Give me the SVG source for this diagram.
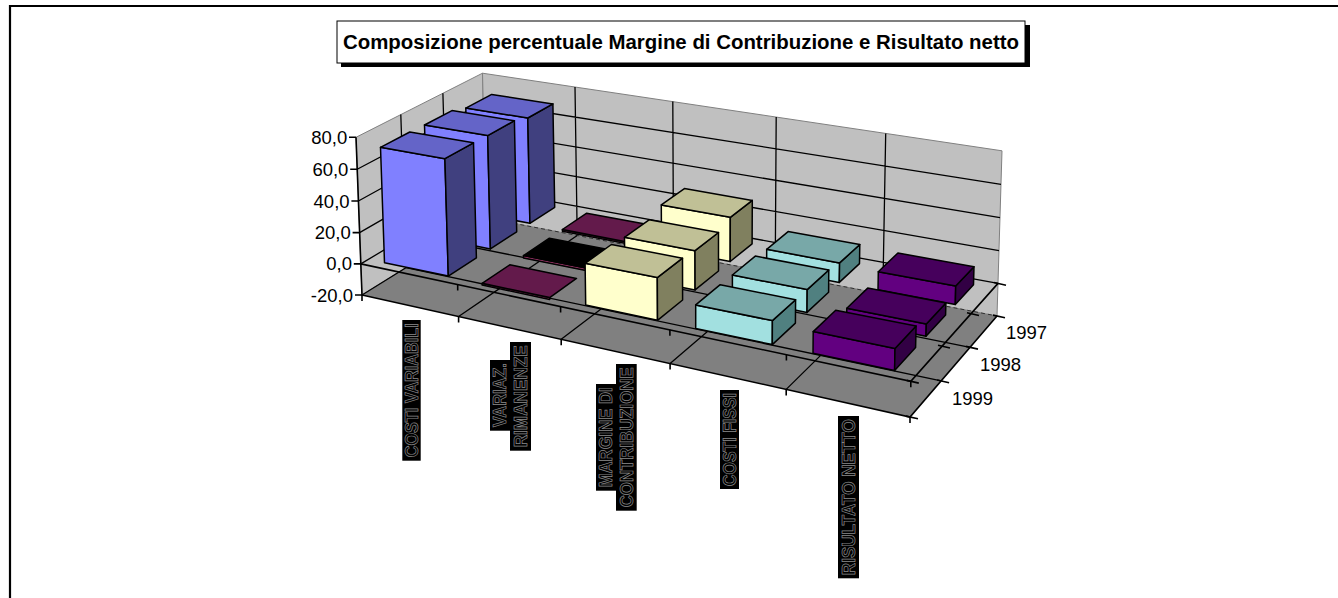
<svg xmlns="http://www.w3.org/2000/svg" width="1338" height="598" viewBox="0 0 1338 598">
<style>
text{font-family:"Liberation Sans",Arial,sans-serif;fill:#000}
.ax{font-size:18.5px}
.wall{fill:#c0c0c0;stroke:#808080;stroke-width:1}
.floor{fill:#808080;stroke:none}
.g{stroke:#000;stroke-width:1.3;fill:none}
.e{stroke:#000;stroke-width:1.6;fill:none}
.b{stroke:#000;stroke-width:1.5;stroke-linejoin:round}
.bf{fill:#8080ff}.bt{fill:#6464c8}.bs{fill:#40407f}
.vt{fill:#631a4b}.vf{fill:#993366}
.yf{fill:#ffffcc}.yt{fill:#c0c096}.ys{fill:#80805f}
.cf{fill:#a2e0e0}.ct{fill:#78a8a8}.cs{fill:#508080}
.pf{fill:#620080}.pt{fill:#46005c}.ps{fill:#320044}
.lb{fill:#000}
.lt{font-size:18px;font-weight:bold;fill:#000;stroke:#8a8a8a;stroke-width:0.7}
</style>
<rect x="0" y="0" width="1338" height="598" fill="#fff"/>
<path d="M10,598 V6 H1338" fill="none" stroke="#000" stroke-width="2.2"/>

<g id="title">
<rect x="341" y="25" width="689" height="42" fill="#000"/>
<rect x="337" y="21" width="688" height="42" fill="#fff" stroke="#000" stroke-width="1"/>
<text x="681" y="49" text-anchor="middle" font-size="19.5" font-weight="bold" textLength="676" lengthAdjust="spacingAndGlyphs">Composizione percentuale Margine di Contribuzione e Risultato netto</text>
</g>

<g id="walls">
<polygon class="wall" points="362,295 486,218 482.5,73.2 356,137.3"/>
<polygon class="wall" points="486,218 997,316 1002,150.8 482.5,73.2"/>
<path class="g" d="M360.8,263.9 L485.3,189.4 M359.6,232.6 L484.6,160.6 M358.4,201 L483.9,131.7 M357.2,169.3 L483.2,102.6 M405.9,267.7 L400.8,114.6 M447.2,242.1 L442.9,93.3"/>
<path class="g" d="M485.3,189.4 L998,283.4 M484.6,160.6 L999,250.6 M483.9,131.7 L1000,217.6 M483.2,102.6 L1001,184.3 M577.2,235.5 L575,87.1 M673.5,254 L672.8,101.6 M775.2,273.5 L776.2,117.1 M882.8,294.1 L885.7,133.4"/>
</g>

<g id="floor">
<polygon class="floor" points="362,295 910,417 997,316 486,218"/>
<path d="M486,218 L997,316" stroke="#303030" stroke-width="1" stroke-dasharray="4,3" fill="none"/>
<path class="g" d="M458.6,316.5 L577.2,235.5 M561.2,339.3 L673.5,254 M670.1,363.6 L775.2,273.5 M786.2,389.4 L882.8,294.1 M405.9,267.7 L941.1,380.9 M447.2,242.1 L970,347.3"/>
<path class="g" d="M362,295 L486,218"/>
</g>

<g id="bars">
<!-- 1997 row -->
<g id="cv1997" class="b"><polygon class="bf" points="465.8,108.1 527.8,118 529.9,223.3 468.6,211.6"/><polygon class="bs" points="527.8,118 552.9,103.9 554.7,207.3 529.9,223.3"/><polygon class="bt" points="465.8,108.1 527.8,118 552.9,103.9 491.7,94.4"/></g>
<g id="vr1997" class="b"><polygon class="vf" points="562.4,229.5 627.2,241.9 627.2,243.8 562.4,231.3"/><polygon class="vt" points="562.4,229.5 627.2,241.9 650.6,225 586.7,213.2"/></g>
<g id="mc1997" class="b"><polygon class="yf" points="661.3,204.9 730.3,217.3 730.2,261.5 661.5,248.4"/><polygon class="ys" points="730.3,217.3 752.3,200.4 752.1,243.8 730.2,261.5"/><polygon class="yt" points="661.3,204.9 730.3,217.3 752.3,200.4 684.4,188.6"/></g>
<g id="cf1997" class="b"><polygon class="cf" points="766.7,249.3 839.6,262.9 839.3,282.4 766.6,268.5"/><polygon class="cs" points="839.6,262.9 859.8,244.5 859.5,263.6 839.3,282.4"/><polygon class="ct" points="766.7,249.3 839.6,262.9 859.8,244.5 788.1,231.6"/></g>
<g id="rn1997" class="b"><polygon class="pf" points="878.3,271.7 955.7,286.1 955.3,304.5 878,289.7"/><polygon class="ps" points="955.7,286.1 974,266.7 973.5,284.7 955.3,304.5"/><polygon class="pt" points="878.3,271.7 955.7,286.1 974,266.7 897.9,253"/></g>
<!-- 1998 row -->
<g id="cv1998" class="b"><polygon class="bf" points="424.5,125 487.7,135.6 490.4,248.9 427.9,236.3"/><polygon class="bs" points="487.7,135.6 514.4,120.7 516.7,231.8 490.4,248.9"/><polygon class="bt" points="424.5,125 487.7,135.6 514.4,120.7 452,110.6"/></g>
<g id="vr1998" class="b"><polygon class="vf" points="523.5,255.5 589.7,268.8 589.7,271.3 523.5,258"/><polygon fill="#000" points="523.5,255.5 589.7,268.8 614.7,250.8 549.4,238.2"/></g>
<g id="mc1998" class="b"><polygon class="yf" points="624.5,237.3 695,250.7 695.1,289.9 624.9,275.9"/><polygon class="ys" points="695,250.7 718.5,232.5 718.5,271 695.1,289.9"/><polygon class="yt" points="624.5,237.3 695,250.7 718.5,232.5 649.1,219.8"/></g>
<g id="cf1998" class="b"><polygon class="cf" points="732.4,275 807.2,289.6 807,312.4 732.4,297.4"/><polygon class="cs" points="807.2,289.6 828.8,270 828.6,292.3 807,312.4"/><polygon class="ct" points="732.4,275 807.2,289.6 828.8,270 755.3,256.1"/></g>
<g id="rn1998" class="b"><polygon class="pf" points="846.8,308.3 926.3,324 926,336.3 846.6,320.3"/><polygon class="ps" points="926.3,324 945.9,303.1 945.6,315.1 926,336.3"/><polygon class="pt" points="846.8,308.3 926.3,324 945.9,303.1 867.7,288.1"/></g>
<!-- 1999 row -->
<g id="cv1999" class="b"><polygon class="bf" points="380.5,147.3 444.9,158.7 448.3,276.1 384.5,262.7"/><polygon class="bs" points="444.9,158.7 473.5,142.8 476.4,257.9 448.3,276.1"/><polygon class="bt" points="380.5,147.3 444.9,158.7 473.5,142.8 409.8,132"/></g>
<g id="vr1999" class="b"><polygon class="vf" points="482.1,283.3 549.7,297.6 549.7,299.4 482.1,285.1"/><polygon class="vt" points="482.1,283.3 549.7,297.6 576.5,278.4 509.8,264.8"/></g>
<g id="mc1999" class="b"><polygon class="yf" points="585.1,263.3 657.3,277.6 657.5,320.3 585.7,305.1"/><polygon class="ys" points="657.3,277.6 682.5,258.2 682.6,300 657.5,320.3"/><polygon class="yt" points="585.1,263.3 657.3,277.6 682.5,258.2 611.4,244.5"/></g>
<g id="cf1999" class="b"><polygon class="cf" points="695.7,304.9 772.4,320.6 772.3,344.6 695.7,328.4"/><polygon class="cs" points="772.4,320.6 795.6,299.7 795.4,323.1 772.3,344.6"/><polygon class="ct" points="695.7,304.9 772.4,320.6 795.6,299.7 720.2,284.7"/></g>
<g id="rn1999" class="b"><polygon class="pf" points="813.2,331.6 895,348.5 894.6,370.4 813,353.2"/><polygon class="ps" points="895,348.5 916.1,326.1 915.6,347.6 894.6,370.4"/><polygon class="pt" points="813.2,331.6 895,348.5 916.1,326.1 835.7,310.2"/></g>
</g>

<g id="axes">
<path class="e" d="M362,295 L356,137.3 M362,295 L910,417 L997,316 M360.8,263.9 L910.8,381.3 L998,283.4"/>
<path class="e" d="M355,295 H362 M353.8,263.9 H360.8 M352.6,232.6 H359.6 M351.4,201 H358.4 M350.2,169.3 H357.2 M349,137.3 H356"/>
<path class="e" d="M362,295 v6 M458.6,316.5 v6 M561.2,339.3 v6 M670.1,363.6 v6 M786.2,389.4 v6 M910,417 v6 M457.7,284.5 v6 M560.6,306.5 v6 M669.9,329.8 v6 M786.4,354.6 v6 M910.8,381.3 v6"/>
<path class="e" d="M906,416.1 L918,418.8 M937.1,380 L949.1,382.7 M966,346.4 L978,349.1 M993,315.1 L1005,317.8 M906.8,380.4 L918.8,383.1 M938,345.3 L950,348 M967,312.8 L979,315.5 M994,282.5 L1006,285.2"/>
<text class="ax" x="353" y="301.5" text-anchor="end">-20,0</text>
<text class="ax" x="352" y="270.4" text-anchor="end">0,0</text>
<text class="ax" x="350.8" y="239.1" text-anchor="end">20,0</text>
<text class="ax" x="349.6" y="207.5" text-anchor="end">40,0</text>
<text class="ax" x="348.4" y="175.8" text-anchor="end">60,0</text>
<text class="ax" x="347.2" y="143.8" text-anchor="end">80,0</text>
<text class="ax" x="1006" y="339">1997</text>
<text class="ax" x="980" y="371">1998</text>
<text class="ax" x="952" y="405">1999</text>
</g>

<g id="catlabels">
<rect class="lb" x="402.3" y="320" width="18.4" height="140.7"/>
<text class="lt" transform="translate(411.5,390.3) rotate(-90)" text-anchor="middle" dy="0.36em" textLength="134" lengthAdjust="spacingAndGlyphs">COSTI VARIABILI</text>
<rect class="lb" x="490" y="360" width="20" height="70.7"/>
<rect class="lb" x="510" y="342" width="21" height="108.7"/>
<text class="lt" transform="translate(500,395.3) rotate(-90)" text-anchor="middle" dy="0.36em" textLength="64" lengthAdjust="spacingAndGlyphs">VARIAZ.</text>
<text class="lt" transform="translate(520.5,396.3) rotate(-90)" text-anchor="middle" dy="0.36em" textLength="102" lengthAdjust="spacingAndGlyphs">RIMANENZE</text>
<rect class="lb" x="596" y="384" width="20" height="106.7"/>
<rect class="lb" x="616" y="364" width="20.7" height="146.7"/>
<text class="lt" transform="translate(606,437.3) rotate(-90)" text-anchor="middle" dy="0.36em" textLength="100" lengthAdjust="spacingAndGlyphs">MARGINE DI</text>
<text class="lt" transform="translate(626.3,437.3) rotate(-90)" text-anchor="middle" dy="0.36em" textLength="140" lengthAdjust="spacingAndGlyphs">CONTRIBUZIONE</text>
<rect class="lb" x="720" y="390" width="19" height="99"/>
<text class="lt" transform="translate(729.5,439.5) rotate(-90)" text-anchor="middle" dy="0.36em" textLength="93" lengthAdjust="spacingAndGlyphs">COSTI FISSI</text>
<rect class="lb" x="838" y="416" width="21" height="162.3"/>
<text class="lt" transform="translate(848.5,497.2) rotate(-90)" text-anchor="middle" dy="0.36em" textLength="156" lengthAdjust="spacingAndGlyphs">RISULTATO NETTO</text>
</g>
</svg>
